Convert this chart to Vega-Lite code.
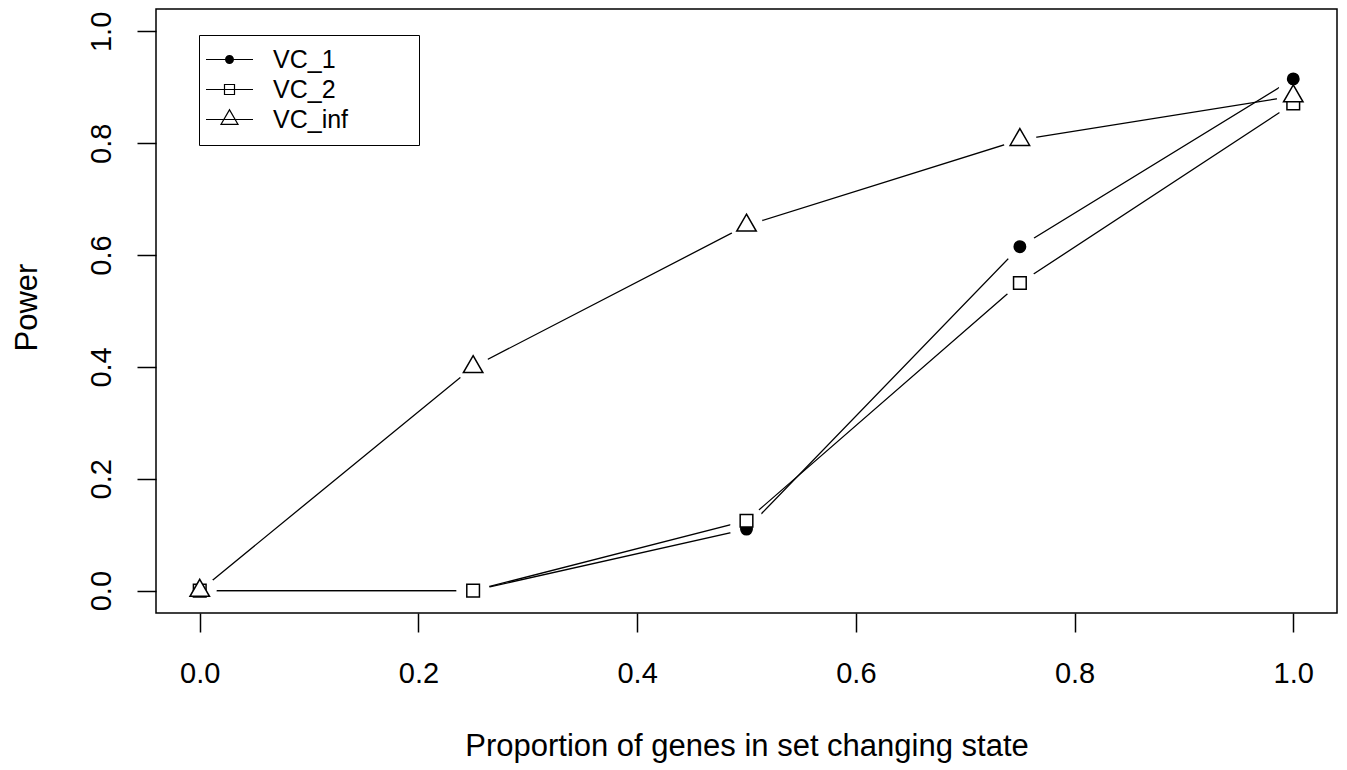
{
  "$schema": "https://vega.github.io/schema/vega-lite/v6.json",
  "autosize": "none",
  "width": 1181,
  "height": 604,
  "padding": {"left": 156, "top": 9, "right": 10, "bottom": 157},
  "background": "white",
  "config": {
    "font": "Liberation Sans",
    "view": {"stroke": "black", "strokeWidth": 1.5},
    "axis": {"labelColor": "black", "titleColor": "black", "tickColor": "black", "grid": false, "domain": false}
  },
  "data": {
    "values": [
      {"proportion": 0.0, "power": 0.0, "series": "VC_1"},
      {"proportion": 0.25, "power": 0.0, "series": "VC_1"},
      {"proportion": 0.5, "power": 0.11, "series": "VC_1"},
      {"proportion": 0.75, "power": 0.615, "series": "VC_1"},
      {"proportion": 1.0, "power": 0.915, "series": "VC_1"},
      {"proportion": 0.0, "power": 0.0, "series": "VC_2"},
      {"proportion": 0.25, "power": 0.0, "series": "VC_2"},
      {"proportion": 0.5, "power": 0.125, "series": "VC_2"},
      {"proportion": 0.75, "power": 0.55, "series": "VC_2"},
      {"proportion": 1.0, "power": 0.871, "series": "VC_2"},
      {"proportion": 0.0, "power": 0.0, "series": "VC_inf"},
      {"proportion": 0.25, "power": 0.4, "series": "VC_inf"},
      {"proportion": 0.5, "power": 0.653, "series": "VC_inf"},
      {"proportion": 0.75, "power": 0.806, "series": "VC_inf"},
      {"proportion": 1.0, "power": 0.884, "series": "VC_inf"}
    ]
  },
  "encoding": {
    "x": {
      "field": "proportion", "type": "quantitative",
      "scale": {"domain": [-0.04, 1.04], "nice": false, "zero": false},
      "axis": {
        "title": "Proportion of genes in set changing state",
        "values": [0, 0.2, 0.4, 0.6, 0.8, 1.0], "format": ".1f",
        "labelFontSize": 29, "labelBaseline": "alphabetic", "labelPadding": 50,
        "tickSize": 19, "tickWidth": 1.5,
        "titleFontSize": 31, "titleFontWeight": "normal", "titleBaseline": "alphabetic",
        "titleX": 590.5, "titleY": 142
      }
    },
    "y": {
      "field": "power", "type": "quantitative",
      "scale": {"domain": [-0.04, 1.04], "nice": false, "zero": false},
      "axis": {
        "title": "Power",
        "values": [0, 0.2, 0.4, 0.6, 0.8, 1.0], "format": ".1f",
        "labelFontSize": 29, "labelAngle": -90, "labelAlign": "center", "labelBaseline": "alphabetic", "labelPadding": 27,
        "tickSize": 19, "tickWidth": 1.5,
        "titleFontSize": 31, "titleFontWeight": "normal", "titleBaseline": "alphabetic", "titleAngle": -90,
        "titleX": -120, "titleY": 298
      }
    }
  },
  "layer": [
    {
      "mark": {"type": "line", "stroke": "black", "strokeWidth": 1.3},
      "encoding": {"detail": {"field": "series", "type": "nominal"}}
    },
    {
      "mark": {"type": "circle", "color": "white", "size": 1100, "opacity": 1},
      "encoding": {}
    },
    {
      "mark": {"type": "point", "stroke": "black", "strokeWidth": 1.5, "opacity": 1, "fillOpacity": 1},
      "encoding": {
        "fill": {"condition": {"test": "datum.series === 'VC_1'", "value": "black"}, "value": "white"},
        "size": {"condition": [{"test": "datum.series === 'VC_inf'", "value": 380}, {"test": "datum.series === 'VC_2'", "value": 160}], "value": 130},
        "shape": {"condition": [{"test": "datum.series === 'VC_1'", "value": "circle"}, {"test": "datum.series === 'VC_2'", "value": "square"}], "value": "M0,-1.155L1,0.577L-1,0.577Z"}
      }
    },
    {
      "mark": {"type": "point", "stroke": "black", "strokeWidth": 1.2, "opacity": 0, "size": 400},
      "encoding": {
        "shape": {
          "field": "series", "type": "nominal",
          "scale": {
            "domain": ["VC_1", "VC_2", "VC_inf"],
            "range": [
              "M-2.35,-0.06H2.35V0.06H-2.35ZM-0.45,0A0.45,0.45,0,1,1,0.45,0A0.45,0.45,0,1,1,-0.45,0Z",
              "M-2.35,-0.06H2.35V0.06H-2.35ZM-0.56,-0.56H0.56V0.56H-0.56ZM-0.44,-0.44V0.44H0.44V-0.44Z",
              "M-2.35,-0.06H2.35V0.06H-2.35ZM0,-1.1L0.953,0.55L-0.953,0.55ZM0,-0.86L-0.745,0.43L0.745,0.43Z"
            ]
          },
          "legend": {
            "title": " ",
            "titleOrient": "right",
            "titlePadding": 59,
            "titleFontSize": 25,
            "orient": "none",
            "legendX": 43,
            "legendY": 26,
            "padding": 12,
            "rowPadding": 4,
            "strokeColor": "black",
            "fillColor": "white",
            "symbolSize": 400,
            "symbolStrokeWidth": 0,
            "symbolOpacity": 1,
            "symbolOffset": 6,
            "labelOffset": 31,
            "labelFontSize": 25,
            "labelColor": "black",
            "encode": {"legend": {"strokeWidth": {"value": 1.5}}}
          }
        },
        "fill": {
          "field": "series", "type": "nominal",
          "scale": {"domain": ["VC_1", "VC_2", "VC_inf"], "range": ["black", "black", "black"]}
        }
      }
    }
  ]
}
